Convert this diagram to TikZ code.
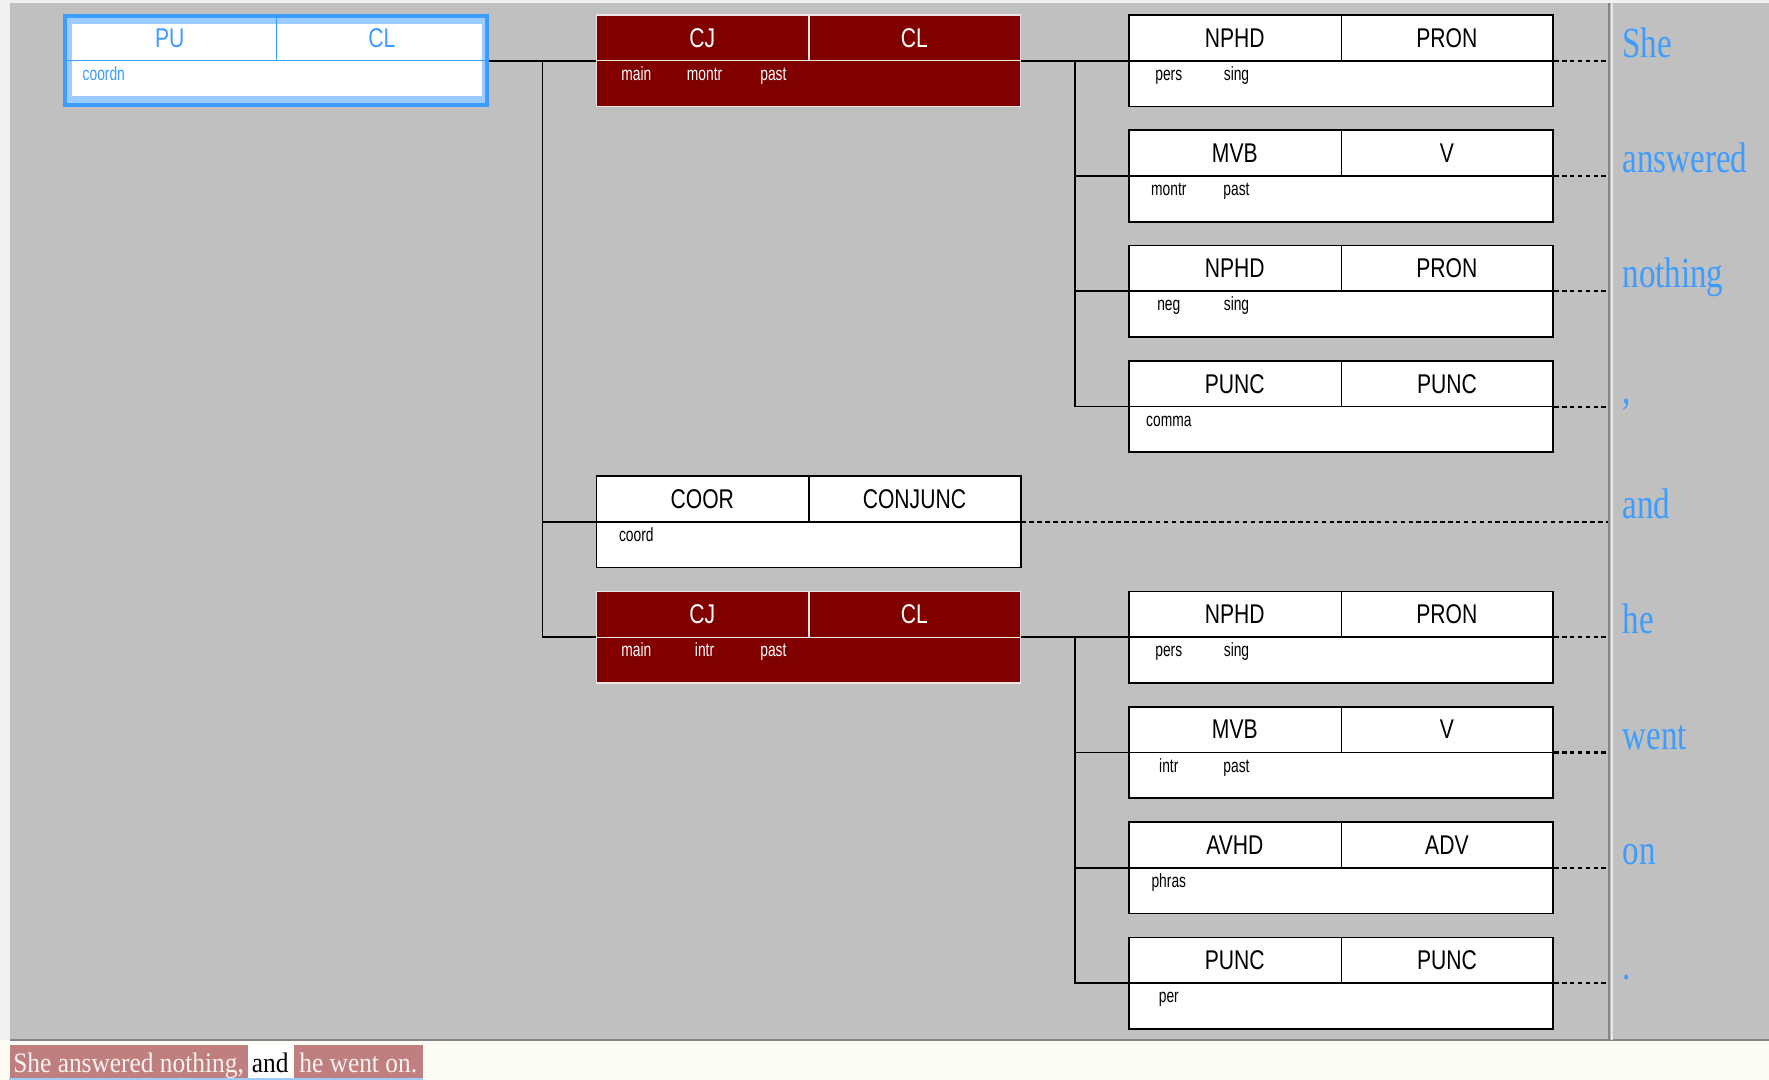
\documentclass[tikz,border=0pt]{standalone}
\usepackage{fontspec}
\usetikzlibrary{calc}
\newfontfamily\boxfont[FakeStretch=0.78]{Liberation Sans}
\newfontfamily\featfont[FakeStretch=0.72]{Liberation Sans}
\newfontfamily\wordfont[FakeStretch=0.77]{Liberation Serif}
\newfontfamily\sentfont[FakeStretch=0.9]{Liberation Serif}
\definecolor{panel}{HTML}{C0C0C0}
\definecolor{margin}{HTML}{F0F0F0}
\definecolor{strip}{HTML}{FDFDF6}
\definecolor{cjred}{HTML}{800000}
\definecolor{cjline}{HTML}{EEE4E4}
\definecolor{pub}{HTML}{3D9CFF}
\definecolor{publ}{HTML}{9CCBFF}
\definecolor{pinkbox}{HTML}{C07F7F}
\definecolor{pinktext}{HTML}{FAF2F2}
\definecolor{darkline}{HTML}{858585}
\definecolor{lightline}{HTML}{E6E6E6}
\tikzset{
 boxplain/.style={draw=black, fill=white, line width=1.5pt, minimum width=376pt, minimum height=81pt, inner sep=0pt, anchor=west},
 boxred/.style={boxplain, draw=cjline, fill=cjred, line width=1.2pt},
 divplain/.style={draw=black, line width=1.5pt},
 divred/.style={draw=cjline, line width=1.2pt},
 bigplain/.style={font=\boxfont\fontsize{24pt}{24pt}\selectfont, text=black, inner sep=0pt, anchor=base},
 bigred/.style={bigplain, text=white},
 bigblue/.style={bigplain, text=pub},
 featplain/.style={font=\featfont\fontsize{17pt}{17pt}\selectfont, text=black, inner sep=0pt, anchor=base},
 featred/.style={featplain, text=white},
 featblue/.style={featplain, text=pub},
 conn/.style={draw=black, line width=1.5pt},
 dotconn/.style={draw=black, line width=1.8pt, dash pattern=on 4pt off 3pt},
 word/.style={font=\wordfont\fontsize{38pt}{38pt}\selectfont, text=pub, inner sep=0pt, anchor=base west},
 sent/.style={font=\sentfont\fontsize{25pt}{25pt}\selectfont, inner sep=0pt, anchor=north west, minimum height=29.5pt, text height=23pt, text depth=3.5pt},
}
\newcommand\synbox[6]{%
  \node[box#4] (#1) at (#2,#3) {};
  \draw[div#4] (#1.west) -- (#1.east);
  \draw[div#4] ([xshift=189pt]#1.north west) -- ([xshift=189pt]#1.west);
  \node[big#4] (#1-a) at ([xshift=94.5pt,yshift=12pt]#1.west) {#5};
  \node[big#4] (#1-b) at ([xshift=282.5pt,yshift=12pt]#1.west) {#6};
}
\newcommand\feat[5]{%
  \node[feat#4] (#1-#2) at ([xshift=#3pt,yshift=-17.4pt]#1.west) {#5};
}
\begin{document}
\begin{tikzpicture}[x=1pt, y=-1pt]
\useasboundingbox (0,0) rectangle (1568,957);
% backgrounds
\fill[margin] (0,0) rectangle (1568,957);
\fill[panel] (9,3) rectangle (1568,922);
\fill[strip] (0,922) rectangle (1568,957);
\draw[darkline, line width=1.5pt] (9,922) -- (1568,922);
\draw[darkline, line width=1.5pt] (1426.4,3) -- (1426.4,922);
\draw[lightline, line width=2pt] (1428.8,3) -- (1428.8,922);

% PU box
\node[boxplain, draw=none, fill=publ] (pu) at (56,53.8) {};
\fill[white] ([shift={(8pt,-9pt)}]pu.north west) rectangle ([shift={(-6pt,10pt)}]pu.south east);
\draw[pub, line width=3.5pt] ([shift={(1.75pt,-1.75pt)}]pu.north west) rectangle ([shift={(-1.75pt,1.75pt)}]pu.south east);
\draw[pub, line width=1.2pt] ([xshift=3.5pt]pu.west) -- ([xshift=-3.5pt]pu.east);
\draw[pub, line width=1.2pt] ([xshift=189pt,yshift=-3.5pt]pu.north west) -- ([xshift=189pt]pu.west);
\node[bigblue] (pu-a) at ([xshift=94.5pt,yshift=12pt]pu.west) {PU};
\node[bigblue] (pu-b) at ([xshift=282.5pt,yshift=12pt]pu.west) {CL};
\feat{pu}{f1}{36}{blue}{coordn}

% middle column
\synbox{cj1}{528}{53.8}{red}{CJ}{CL}
\feat{cj1}{f1}{36}{red}{main}
\feat{cj1}{f2}{96.5}{red}{montr}
\feat{cj1}{f3}{157.5}{red}{past}

\synbox{coor}{528}{462.6}{plain}{COOR}{CONJUNC}
\feat{coor}{f1}{36}{plain}{coord}

\synbox{cj2}{528}{564.8}{red}{CJ}{CL}
\feat{cj2}{f1}{36}{red}{main}
\feat{cj2}{f2}{96.5}{red}{intr}
\feat{cj2}{f3}{157.5}{red}{past}

% right column
\synbox{r1}{1000}{53.8}{plain}{NPHD}{PRON}
\feat{r1}{f1}{36}{plain}{pers}
\feat{r1}{f2}{96}{plain}{sing}
\synbox{r2}{1000}{156}{plain}{MVB}{V}
\feat{r2}{f1}{36}{plain}{montr}
\feat{r2}{f2}{96}{plain}{past}
\synbox{r3}{1000}{258.2}{plain}{NPHD}{PRON}
\feat{r3}{f1}{36}{plain}{neg}
\feat{r3}{f2}{96}{plain}{sing}
\synbox{r4}{1000}{360.4}{plain}{PUNC}{PUNC}
\feat{r4}{f1}{36}{plain}{comma}
\synbox{r5}{1000}{564.8}{plain}{NPHD}{PRON}
\feat{r5}{f1}{36}{plain}{pers}
\feat{r5}{f2}{96}{plain}{sing}
\synbox{r6}{1000}{667}{plain}{MVB}{V}
\feat{r6}{f1}{36}{plain}{intr}
\feat{r6}{f2}{96}{plain}{past}
\synbox{r7}{1000}{769.2}{plain}{AVHD}{ADV}
\feat{r7}{f1}{36}{plain}{phras}
\synbox{r8}{1000}{871.4}{plain}{PUNC}{PUNC}
\feat{r8}{f1}{36}{plain}{per}

% connectors
\draw[conn] (pu.east) -- (cj1.west);
\draw[conn] ($(pu.east)!.5!(cj1.west)$) |- (coor.west);
\draw[conn] ($(pu.east)!.5!(cj1.west)$) |- (cj2.west);
\draw[conn] (cj1.east) -- (r1.west);
\draw[conn] ($(cj1.east)!.5!(r1.west)$) |- (r2.west);
\draw[conn] ($(cj1.east)!.5!(r1.west)$) |- (r3.west);
\draw[conn] ($(cj1.east)!.5!(r1.west)$) |- (r4.west);
\draw[conn] (cj2.east) -- (r5.west);
\draw[conn] ($(cj2.east)!.5!(r5.west)$) |- (r6.west);
\draw[conn] ($(cj2.east)!.5!(r5.west)$) |- (r7.west);
\draw[conn] ($(cj2.east)!.5!(r5.west)$) |- (r8.west);

% dotted links to words
\coordinate (edge) at (1425,0);
\foreach \b in {r1,r2,r3,r4,coor,r5,r6,r7,r8}{
  \draw[dotconn] (\b.east) -- (\b.east -| edge);
}

% words
\node[word] (w1) at (1438,50.8) {She};
\node[word] (w2) at (1438,153) {answered};
\node[word] (w3) at (1438,255.2) {nothing};
\node[word] (w4) at (1438,357.4) {,};
\node[word] (w5) at (1438,459.6) {and};
\node[word] (w6) at (1438,561.8) {he};
\node[word] (w7) at (1438,664) {went};
\node[word] (w8) at (1438,766.2) {on};
\node[word] (w9) at (1438,868.4) {.};

% sentence strip
\node[sent, fill=pinkbox, text=pinktext, minimum width=211pt] (s1) at (8.3,925.7) {She answered nothing,};
\node[sent, fill=white, text=black, minimum width=38.5pt] (s2) at (220,925.7) {and};
\node[sent, fill=pinkbox, text=pinktext, minimum width=114.7pt] (s3) at (260,925.7) {he went on.};
\draw[publ, line width=2pt] ([yshift=-1pt]s1.south west) -- ([yshift=-1pt]s3.south east);
\end{tikzpicture}
\end{document}
